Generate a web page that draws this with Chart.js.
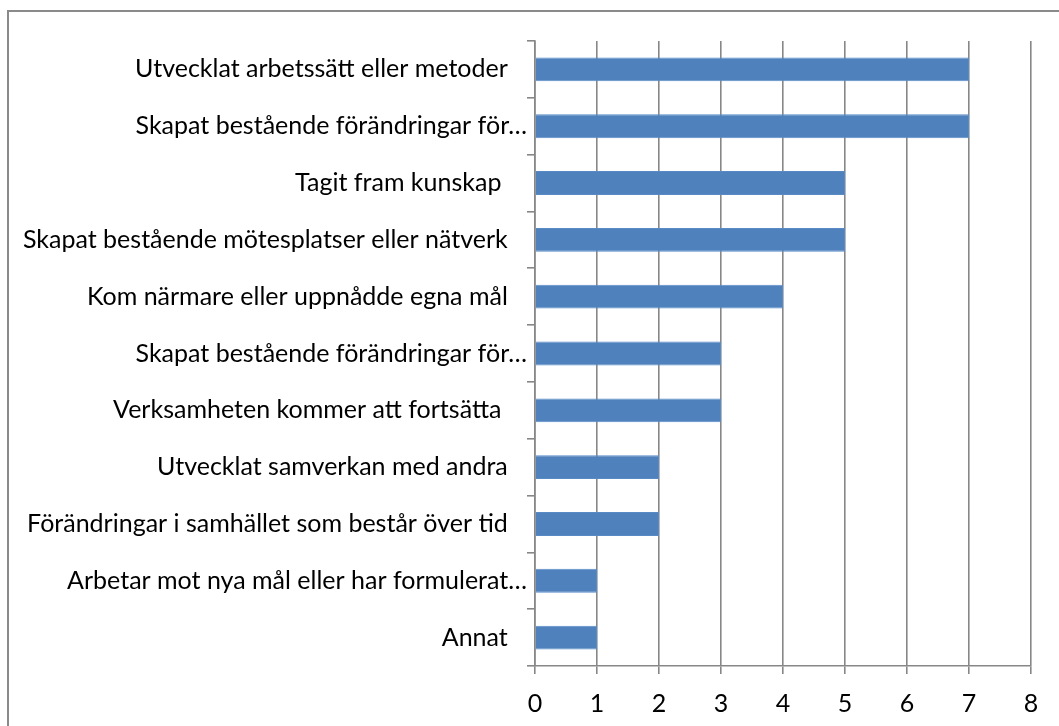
<!DOCTYPE html>
<html>
<head>
<meta charset="utf-8">
<script src="https://cdn.jsdelivr.net/npm/chart.js@4/dist/chart.umd.min.js"></script>
<style>
  html, body { margin: 0; padding: 0; background: #fff; overflow: hidden; }
  #wrap { position: relative; width: 1059px; height: 726px; }
  #frame { position: absolute; left: 7px; top: 10px; width: 1100px; height: 800px;
           border: 2px solid #8a8a8a; box-sizing: border-box; pointer-events: none; }
  canvas { position: absolute; left: 0; top: 0; }
</style>
</head>
<body>
<div id="wrap">
  <canvas id="c" width="1059" height="726"></canvas>
  <div id="frame"></div>
</div>
<script>
const categories = [
  "Utvecklat arbetssätt eller metoder",
  "Skapat bestående förändringar för…",
  "Tagit fram kunskap ",
  "Skapat bestående mötesplatser eller nätverk",
  "Kom närmare eller uppnådde egna mål",
  "Skapat bestående förändringar för…",
  "Verksamheten kommer att fortsätta ",
  "Utvecklat samverkan med andra",
  "Förändringar i samhället som består över tid",
  "Arbetar mot nya mål eller har formulerat…",
  "Annat"
];
const counts = [7, 7, 5, 5, 4, 3, 3, 2, 2, 1, 1];
const xTicks = [0, 1, 2, 3, 4, 5, 6, 7, 8];

const FONT = "Lato";
const FSIZE = 25;
const GRID = "#878787";

const mctx = document.createElement("canvas").getContext("2d");
mctx.font = FSIZE + "px " + FONT;
const spaceW = mctx.measureText(" ").width;
function padLabel(l) {
  if (l.endsWith("…")) return l;
  const n = Math.max(1, Math.round(18 / spaceW));
  return l + " ".repeat(n);
}

new Chart(document.getElementById("c"), {
  type: "bar",
  data: {
    labels: categories,
    datasets: [{
      data: counts,
      backgroundColor: "#4F81BD",
      borderColor: "#5A8AC6",
      borderWidth: 1,
      barPercentage: 0.42,
      categoryPercentage: 1.0
    }]
  },
  options: {
    indexAxis: "y",
    responsive: false,
    animation: false,
    devicePixelRatio: 1,
    layout: { padding: { top: 41, right: 28, left: 0, bottom: 0 } },
    plugins: { legend: { display: false }, tooltip: { enabled: false } },
    scales: {
      x: {
        min: 0, max: 8,
        afterFit: s => { s.height = 60; },
        afterBuildTicks: s => { s.ticks = xTicks.map(v => ({ value: v })); },
        ticks: { stepSize: 1, color: "#000", padding: 15, font: { family: FONT, size: FSIZE } },
        grid: { color: GRID, lineWidth: 1.6, tickLength: 8, drawTicks: true },
        border: { color: GRID, width: 1.6 }
      },
      y: {
        afterFit: s => { s.width = 535; },
        ticks: {
          color: "#000", padding: 0, autoSkip: false,
          font: { family: FONT, size: FSIZE },
          callback: (v, i) => padLabel(categories[i])
        },
        grid: { drawOnChartArea: false, color: GRID, lineWidth: 1.6, tickLength: 8, offset: true },
        border: { color: GRID, width: 1.6 }
      }
    }
  }
});
</script>
</body>
</html>
